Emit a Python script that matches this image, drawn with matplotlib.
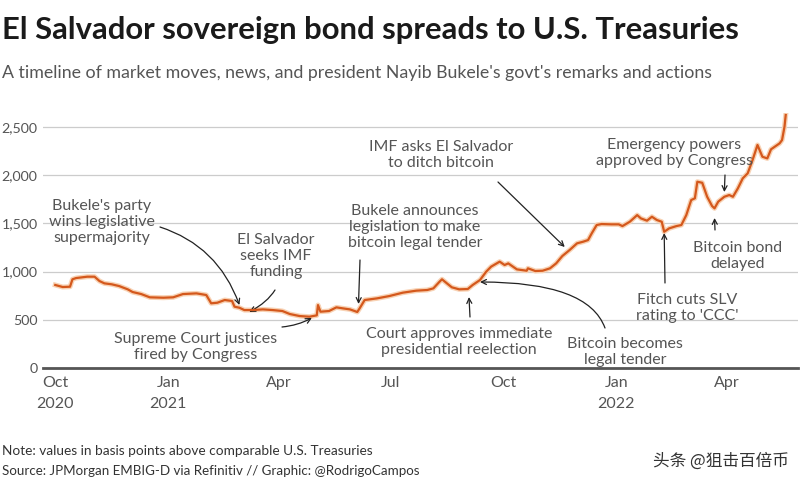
import pandas as pd
import matplotlib.pyplot as plt

dates = ['2020-10-01', '2020-10-07', '2020-10-13', '2020-10-15', '2020-10-18', '2020-10-27',
         '2020-11-02', '2020-11-06', '2020-11-10', '2020-11-16', '2020-11-22', '2020-11-29',
         '2020-12-03', '2020-12-10', '2020-12-17', '2020-12-28', '2021-01-05', '2021-01-13',
         '2021-01-24', '2021-02-01', '2021-02-05', '2021-02-10', '2021-02-16', '2021-02-22',
         '2021-02-24', '2021-02-28', '2021-03-04', '2021-03-11', '2021-03-19', '2021-03-27',
         '2021-04-04', '2021-04-10', '2021-04-18', '2021-04-26', '2021-05-02', '2021-05-03',
         '2021-05-05', '2021-05-12', '2021-05-18', '2021-05-23', '2021-05-29', '2021-06-04',
         '2021-06-06', '2021-06-10', '2021-06-20', '2021-06-30', '2021-07-11', '2021-07-22',
         '2021-07-31', '2021-08-05', '2021-08-10', '2021-08-12', '2021-08-16', '2021-08-20',
         '2021-08-26', '2021-09-02', '2021-09-06', '2021-09-12', '2021-09-17', '2021-09-21',
         '2021-09-28', '2021-10-02', '2021-10-05', '2021-10-12', '2021-10-20', '2021-10-21',
         '2021-10-27', '2021-11-02', '2021-11-08', '2021-11-13', '2021-11-18', '2021-11-24',
         '2021-11-30', '2021-12-05', '2021-12-09', '2021-12-12', '2021-12-16', '2021-12-20',
         '2021-12-28', '2022-01-03', '2022-01-06', '2022-01-12', '2022-01-18', '2022-01-21',
         '2022-01-26', '2022-01-30', '2022-02-03', '2022-02-07', '2022-02-09', '2022-02-13',
         '2022-02-19', '2022-02-23', '2022-02-27', '2022-03-03', '2022-03-06', '2022-03-08',
         '2022-03-12', '2022-03-16', '2022-03-20', '2022-03-22', '2022-03-25', '2022-03-30',
         '2022-04-03', '2022-04-06', '2022-04-10', '2022-04-14', '2022-04-18', '2022-04-22',
         '2022-04-26', '2022-04-30', '2022-05-04', '2022-05-07', '2022-05-14', '2022-05-16',
         '2022-05-18', '2022-05-19']
spread = [861, 840, 843, 920, 933, 947,
          947, 902, 878, 868, 850, 816,
          788, 767, 733, 729, 733, 767,
          774, 757, 671, 677, 705, 695,
          636, 625, 601, 601, 608, 601,
          591, 560, 539, 532, 546, 653,
          584, 591, 629, 619, 608, 581,
          620, 705, 722, 746, 781, 802,
          809, 826, 895, 920, 878, 837,
          816, 819, 861, 913, 999, 1051,
          1103, 1068, 1085, 1023, 1009, 1034,
          1006, 1009, 1034, 1085, 1161, 1224,
          1293, 1310, 1327, 1397, 1483, 1493,
          1490, 1490, 1472, 1517, 1586, 1552,
          1528, 1569, 1535, 1517, 1413, 1448,
          1472, 1483, 1586, 1742, 1760, 1932,
          1921, 1776, 1680, 1656, 1725, 1776,
          1794, 1776, 1863, 1967, 2019, 2157,
          2313, 2191, 2174, 2268, 2330, 2364,
          2502, 2624]

tick_dates = ['2020-10-01', '2021-01-01', '2021-04-01', '2021-07-01',
              '2021-10-01', '2022-01-01', '2022-04-01']
tick_labels = ['Oct\n2020', 'Jan\n2021', 'Apr', 'Jul', 'Oct', 'Jan\n2022', 'Apr']

# (text, arrow head date, arrow head value)
events = [
    ("Bukele's party\nwins legislative\nsupermajority", '2021-02-28', 653),
    ("El Salvador\nseeks IMF\nfunding", '2021-03-08', 581),
    ("Supreme Court justices\nfired by Congress", '2021-04-28', 519),
    ("Bukele announces\nlegislation to make\nbitcoin legal tender", '2021-06-05', 664),
    ("IMF asks El Salvador\nto ditch bitcoin", '2021-11-20', 1255),
    ("Court approves immediate\npresidential reelection", '2021-09-03', 736),
    ("Bitcoin becomes\nlegal tender", '2021-09-12', 892),
    ("Fitch cuts SLV\nrating to 'CCC'", '2022-02-09', 1400),
    ("Emergency powers\napproved by Congress", '2022-03-30', 1825),
    ("Bitcoin bond\ndelayed", '2022-03-22', 1556),
]
# label centre (px from left, px from top), arrow tail (px), connection style
label_pos = [(102, 222), (276, 256), (196, 347), (415, 227), (441, 155),
             (459, 342), (625, 352), (687, 308), (674, 153), (738, 256)]
tail_pos = [(160, 227), (275, 290), (282, 327), (360, 260), (498, 182),
            (470, 317), (605, 328), (665, 283), (725, 175), (715, 230)]
conn = ["angle3,angleA=-18,angleB=110", "angle3,angleA=58,angleB=28", "arc3,rad=0.1",
        "arc3", "arc3", "arc3", "angle3,angleA=110,angleB=0", "arc3", "arc3", "arc3"]

plt.rcParams['font.family'] = ['Lato', 'DejaVu Sans']

W, H = 800, 484
fig = plt.figure(figsize=(8, 4.84), dpi=100)
ax = fig.add_axes([43 / W, (H - 368) / H, 755 / W, 255.5 / H])

x = pd.to_datetime(dates)
ax.plot(x, spread, color='#f8d2b4', lw=3.6, solid_joinstyle='round', zorder=3)
ax.plot(x, spread, color='#d4581c', lw=1.6, zorder=4)

ax.set_xlim(pd.Timestamp('2020-09-21'), pd.Timestamp('2022-05-29'))
ax.set_ylim(0, 2650)
ax.set_yticks([0, 500, 1000, 1500, 2000, 2500])
ax.set_yticklabels(['0', '500', '1,000', '1,500', '2,000', '2,500'])
ax.set_xticks(pd.to_datetime(tick_dates))
ax.set_xticklabels(tick_labels, linespacing=1.6)
ax.tick_params(length=0, labelsize=11.5, labelcolor='#555555')
ax.tick_params(axis='y', pad=4, labelsize=10.3)
ax.tick_params(axis='x', pad=6)
ax.grid(axis='y', color='#cccccc', lw=0.9)
ax.set_axisbelow(True)
for s in ['top', 'right', 'left']:
    ax.spines[s].set_visible(False)
ax.spines['bottom'].set_color('#555555')
ax.spines['bottom'].set_linewidth(2)

for (txt, d, v), (lx, ly), (tx, ty), cs in zip(events, label_pos, tail_pos, conn):
    fig.text(lx / W, 1 - ly / H, txt, ha='center', va='center', fontsize=11.5,
             color='#555555', linespacing=1.2)
    ax.annotate('', xy=(pd.Timestamp(d), v), xycoords='data',
                xytext=(tx, H - ty), textcoords='figure pixels',
                arrowprops=dict(arrowstyle='->', color='#222222', lw=0.9,
                                connectionstyle=cs, shrinkA=0, shrinkB=0,
                                mutation_scale=9))

fig.text(2 / W, 1 - 30 / H, 'El Salvador sovereign bond spreads to U.S. Treasuries',
         fontsize=22.3, fontweight='bold', color='#1a1a1a', va='center')
fig.text(2 / W, 1 - 73 / H,
         "A timeline of market moves, news, and president Nayib Bukele's govt's remarks and actions",
         fontsize=12.8, color='#555555', va='center')
fig.text(2 / W, 1 - 451 / H, 'Note: values in basis points above comparable U.S. Treasuries',
         fontsize=9.8, color='#333333', va='center')
fig.text(2 / W, 1 - 471 / H,
         'Source: JPMorgan EMBIG-D via Refinitiv // Graphic: @RodrigoCampos',
         fontsize=9.6, color='#333333', va='center')
fig.text(721 / W, 1 - 461 / H, '头条 @狙击百倍币', fontsize=12, color='#333333',
         ha='center', va='center', family=['Noto Sans CJK SC', 'DejaVu Sans'])

fig.savefig('out.png', dpi=100)
